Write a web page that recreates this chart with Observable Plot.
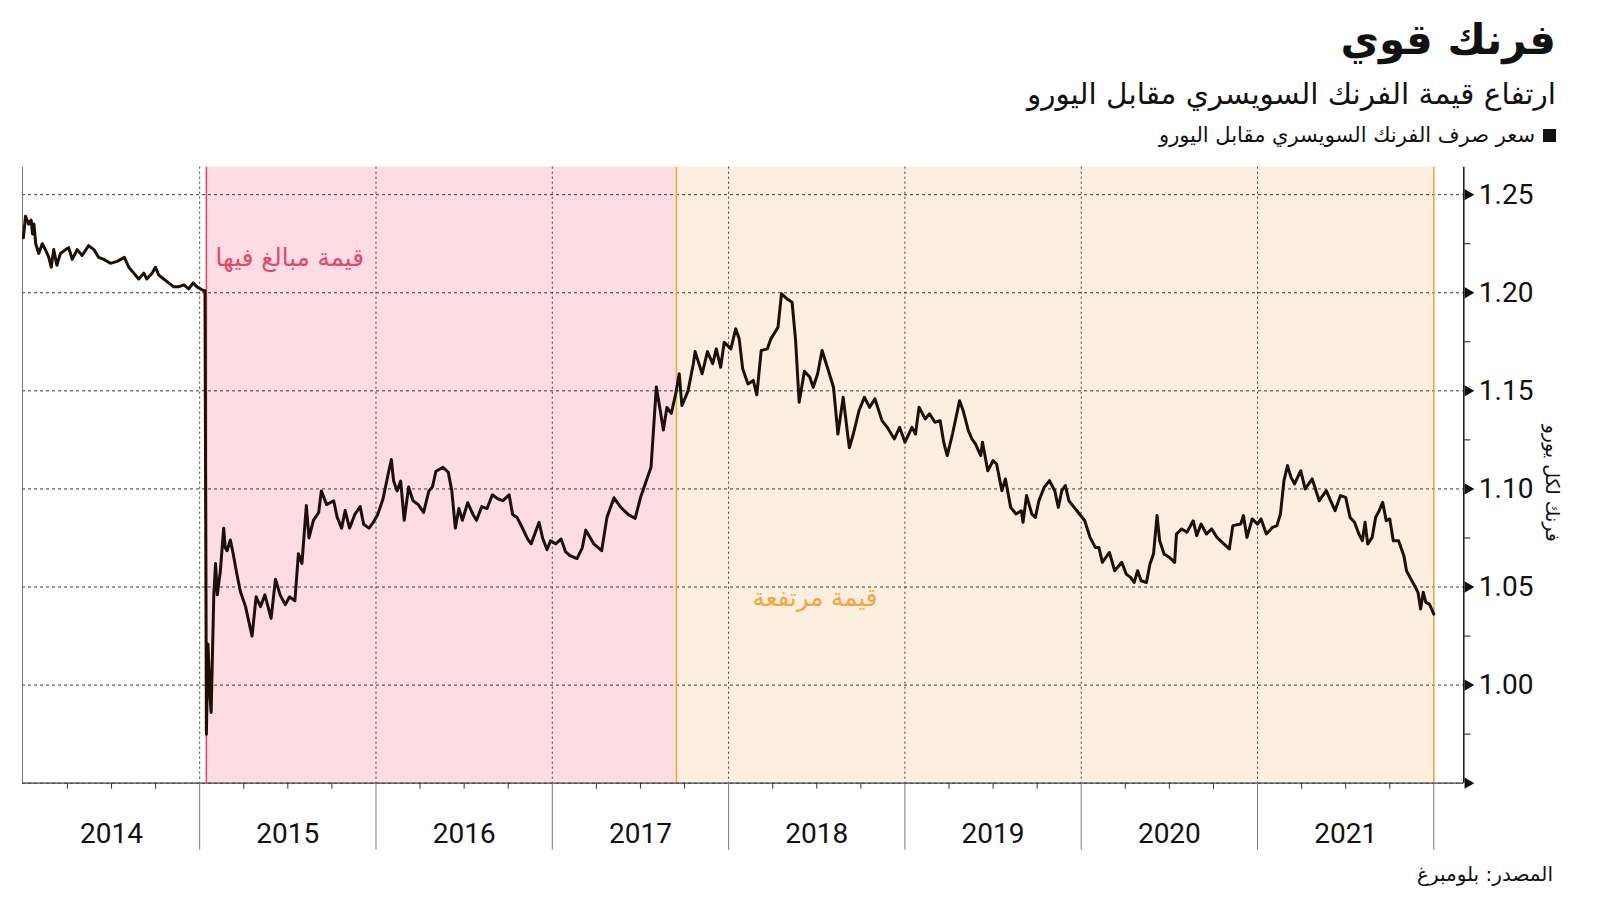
<!DOCTYPE html>
<html lang="ar">
<head>
<meta charset="utf-8">
<script src="https://cdn.jsdelivr.net/npm/d3@7"></script>
<script src="https://cdn.jsdelivr.net/npm/@observablehq/plot@0.6"></script>
<style>
  html, body { margin: 0; padding: 0; background: #ffffff; }
  #wrap { position: relative; width: 1600px; height: 901px; overflow: hidden; background: #fff; }
  .t { position: absolute; right: 44px; direction: rtl; white-space: nowrap; color: #111; font-family: "DejaVu Sans", sans-serif; line-height: 1; }
  #title { top: 19px; font-size: 42px; font-weight: bold; }
  #subtitle { top: 80px; font-size: 29.5px; }
  #legend { top: 125px; font-size: 21px; display: flex; align-items: center; gap: 8px; }
  #legend .sw { width: 13px; height: 13px; background: #111; display: inline-block; }
  #source { top: 864px; right: 47px; font-size: 20px; }
  #chart { position: absolute; left: 0; top: 150px; }
</style>
</head>
<body>
<div id="wrap">
  <div class="t" id="title">فرنك قوي</div>
  <div class="t" id="subtitle">ارتفاع قيمة الفرنك السويسري مقابل اليورو</div>
  <div class="t" id="legend"><span class="sw"></span><span>سعر صرف الفرنك السويسري مقابل اليورو</span></div>
  <div class="t" id="source">المصدر: بلومبرغ</div>
  <div id="chart"></div>
</div>
<script>
// ---- Data: EUR/CHF (francs per euro), x as decimal year ----
const yearPos = [
2014.000,2014.012,2014.030,2014.044,2014.052,2014.060,2014.070,2014.087,2014.107,2014.125,
2014.144,2014.158,2014.172,2014.190,2014.210,2014.240,2014.257,2014.277,2014.305,2014.333,
2014.370,2014.400,2014.427,2014.456,2014.494,2014.532,2014.573,2014.598,2014.626,2014.654,
2014.683,2014.700,2014.730,2014.749,2014.768,2014.796,2014.824,2014.853,2014.880,2014.910,
2014.938,2014.963,2014.985,2015.013,2015.030,2015.038,2015.047,2015.058,2015.065,2015.080,
2015.090,2015.100,2015.117,2015.136,2015.145,2015.155,2015.174,2015.190,2015.210,2015.230,
2015.260,2015.297,2015.320,2015.345,2015.370,2015.405,2015.430,2015.456,2015.485,2015.510,
2015.540,2015.560,2015.580,2015.605,2015.620,2015.645,2015.675,2015.690,2015.720,2015.760,
2015.780,2015.805,2015.825,2015.850,2015.880,2015.910,2015.930,2015.960,2015.985,2016.010,
2016.040,2016.070,2016.087,2016.100,2016.120,2016.140,2016.160,2016.185,2016.210,2016.240,
2016.270,2016.300,2016.320,2016.340,2016.380,2016.410,2016.430,2016.450,2016.470,2016.490,
2016.520,2016.550,2016.570,2016.600,2016.630,2016.660,2016.690,2016.720,2016.755,2016.775,
2016.800,2016.820,2016.860,2016.880,2016.925,2016.945,2016.970,2016.990,2017.020,2017.050,
2017.075,2017.100,2017.140,2017.170,2017.190,2017.235,2017.280,2017.310,2017.350,2017.390,
2017.430,2017.470,2017.500,2017.540,2017.560,2017.590,2017.615,2017.630,2017.650,2017.675,
2017.700,2017.720,2017.735,2017.770,2017.800,2017.810,2017.850,2017.880,2017.910,2017.930,
2017.955,2017.975,2018.013,2018.040,2018.060,2018.080,2018.110,2018.140,2018.160,2018.185,
2018.220,2018.240,2018.280,2018.300,2018.330,2018.360,2018.380,2018.400,2018.430,2018.460,
2018.480,2018.505,2018.530,2018.560,2018.595,2018.620,2018.650,2018.675,2018.685,2018.710,
2018.740,2018.770,2018.800,2018.830,2018.870,2018.900,2018.940,2018.970,2019.000,2019.040,
2019.060,2019.080,2019.115,2019.140,2019.170,2019.200,2019.220,2019.240,2019.270,2019.310,
2019.330,2019.360,2019.380,2019.400,2019.430,2019.440,2019.470,2019.500,2019.520,2019.550,
2019.570,2019.600,2019.630,2019.660,2019.670,2019.690,2019.720,2019.740,2019.760,2019.790,
2019.820,2019.850,2019.870,2019.890,2019.910,2019.930,2019.960,2019.990,2020.020,2020.050,
2020.080,2020.100,2020.120,2020.160,2020.190,2020.230,2020.255,2020.280,2020.300,2020.320,
2020.340,2020.370,2020.390,2020.410,2020.430,2020.445,2020.470,2020.500,2020.530,2020.540,
2020.570,2020.600,2020.635,2020.655,2020.680,2020.710,2020.740,2020.770,2020.810,2020.840,
2020.860,2020.905,2020.920,2020.940,2020.970,2021.000,2021.020,2021.050,2021.085,2021.110,
2021.130,2021.150,2021.170,2021.190,2021.210,2021.245,2021.270,2021.310,2021.350,2021.390,
2021.410,2021.440,2021.470,2021.500,2021.525,2021.550,2021.575,2021.595,2021.610,2021.625,
2021.650,2021.670,2021.690,2021.710,2021.730,2021.750,2021.770,2021.800,2021.830,2021.845,
2021.865,2021.895,2021.910,2021.925,2021.940,2021.955,2021.975,2022.000
];
const rate = [
1.228,1.239,1.235,1.237,1.230,1.235,1.225,1.220,1.225,1.222,
1.218,1.213,1.222,1.214,1.220,1.222,1.223,1.217,1.222,1.219,
1.224,1.222,1.218,1.217,1.215,1.216,1.218,1.213,1.210,1.207,
1.210,1.207,1.210,1.213,1.209,1.207,1.205,1.203,1.203,1.204,
1.202,1.205,1.203,1.2015,1.201,0.975,1.021,0.995,0.986,1.046,
1.062,1.046,1.058,1.080,1.070,1.0685,1.074,1.067,1.057,1.048,
1.040,1.025,1.045,1.040,1.046,1.034,1.054,1.046,1.041,1.045,
1.043,1.067,1.062,1.0915,1.075,1.084,1.088,1.099,1.092,1.094,
1.0855,1.080,1.089,1.080,1.087,1.091,1.082,1.080,1.083,1.087,
1.095,1.108,1.115,1.104,1.099,1.104,1.084,1.101,1.094,1.092,
1.088,1.099,1.101,1.109,1.111,1.1085,1.099,1.080,1.090,1.084,
1.093,1.087,1.084,1.091,1.090,1.097,1.095,1.094,1.097,1.087,
1.0855,1.082,1.0745,1.072,1.083,1.075,1.069,1.0735,1.072,1.0745,
1.068,1.066,1.0645,1.070,1.079,1.072,1.0685,1.0855,1.0955,1.0905,
1.087,1.085,1.0955,1.106,1.111,1.152,1.1385,1.130,1.1415,1.1385,
1.1485,1.1587,1.1425,1.150,1.1638,1.170,1.1587,1.170,1.1638,1.1714,
1.162,1.1748,1.1714,1.1816,1.1765,1.1612,1.1535,1.1553,1.148,1.1706,
1.1714,1.1765,1.1824,1.1995,1.197,1.1952,1.1757,1.1442,1.160,1.157,
1.1518,1.1587,1.1706,1.162,1.1518,1.128,1.1467,1.128,1.121,1.1289,
1.140,1.1467,1.1416,1.1459,1.1348,1.1314,1.1255,1.1314,1.1238,1.1314,
1.128,1.1416,1.1357,1.1383,1.134,1.1348,1.1238,1.117,1.128,1.145,
1.140,1.1297,1.1255,1.123,1.117,1.1238,1.1093,1.1144,1.1127,1.0991,
1.1051,1.0906,1.0872,1.0889,1.083,1.0966,1.0872,1.0855,1.094,1.1008,
1.1042,1.0991,1.0906,1.0991,1.1017,1.094,1.0906,1.0872,1.0838,1.0753,
1.0702,1.0702,1.0626,1.0676,1.0583,1.0626,1.0566,1.0549,1.0523,1.0583,
1.0532,1.0523,1.0617,1.0668,1.0864,1.0736,1.0668,1.0651,1.0626,1.077,
1.0796,1.0779,1.0838,1.0762,1.0821,1.077,1.0796,1.0753,1.0719,1.0694,
1.0813,1.0821,1.0864,1.0753,1.0847,1.0821,1.0847,1.077,1.0804,1.0813,
1.0872,1.1042,1.1119,1.1059,1.1026,1.1093,1.100,1.1051,1.094,1.0991,
1.0949,1.0889,1.0966,1.0957,1.0855,1.083,1.077,1.0736,1.083,1.0719,
1.0753,1.0855,1.0889,1.0932,1.0838,1.0847,1.0736,1.0736,1.066,1.0583,
1.0549,1.050,1.0473,1.0388,1.0473,1.0422,1.0413,1.0362
];

// Periods (decimal years)
const periodNames  = ["قيمة مبالغ فيها", "قيمة مرتفعة"];
const periodStart  = [2015.038, 2017.704];
const periodEnd    = [2017.704, 2022.000];
const periodFill   = ["#fddde3", "#fdefdf"];
const periodLine   = ["#e2486b", "#f1a640"];
const periodLabelX = [2015.511, 2018.49];
const periodLabelY = [1.2175, 1.0445];

// Axes
const yGrid      = [0.95, 1.00, 1.05, 1.10, 1.15, 1.20, 1.25];
const yLabels    = [1.00, 1.05, 1.10, 1.15, 1.20, 1.25];
const yMinor     = [0.975, 1.025, 1.075, 1.125, 1.175, 1.225];
const yearLines  = [2015, 2016, 2017, 2018, 2019, 2020, 2021];
const yearBounds = [2015, 2016, 2017, 2018, 2019, 2020, 2021, 2022];
const yearLabels = [2014, 2015, 2016, 2017, 2018, 2019, 2020, 2021];
const yAxisTitle = "فرنك لكل يورو";

const xDomain = [2013.995, 2022.17];
const yDomain = [0.95, 1.264];

const series = yearPos.map((x, i) => ({x, v: rate[i]}));
const quarters = [];
for (let y = 2014; y < 2022; y++) for (const q of [0.25, 0.5, 0.75]) quarters.push(y + q);
const yearMids = yearLabels.map(y => y + 0.5);

const numFont = "Roboto, 'Liberation Sans', sans-serif";
const arFont = "'DejaVu Sans', sans-serif";

const marks = [];
periodStart.forEach((s, i) => {
  marks.push(Plot.rect([0], {x1: () => s, x2: () => periodEnd[i], fill: periodFill[i]}));
});
marks.push(
  Plot.gridY(yGrid, {stroke: "#3a3a3a", strokeOpacity: 1, strokeDasharray: "3,3", strokeWidth: 1}),
  Plot.gridX(yearLines, {stroke: "#3a3a3a", strokeOpacity: 1, strokeDasharray: "2,3", strokeWidth: 1}),
  Plot.ruleX([xDomain[0]], {stroke: "#777", strokeWidth: 1}),
  Plot.ruleX(periodStart, {stroke: (d, i) => periodLine[i], strokeWidth: 1.6}),
  Plot.ruleX([periodEnd[1]], {stroke: periodLine[1], strokeWidth: 1.6}),
  Plot.ruleY([yDomain[0]], {stroke: "#444", strokeWidth: 1.2}),
  Plot.line(series, {x: "x", y: "v", stroke: "#1c100a", strokeWidth: 3, strokeLinejoin: "round"}),
  // right axis
  Plot.ruleX([xDomain[1]], {stroke: "#111", strokeWidth: 1.5}),
  Plot.axisY({anchor: "right", ticks: yMinor, tickSize: 6, tickFormat: () => "", stroke: "#111", label: null}),
  Plot.dot(yGrid, {y: d => d, frameAnchor: "right", symbol: "triangle", r: 4.2, rotate: 90, dx: 4, fill: "#111", stroke: null}),
  Plot.axisY({anchor: "right", ticks: yLabels, tickSize: 0, tickPadding: 15, tickFormat: d3.format(".2f"), fontSize: 28, fontFamily: numFont, fill: "#111", label: null}),
  Plot.text([yAxisTitle], {frameAnchor: "right", textAnchor: "middle", dx: 88, dy: 8, rotate: 90, fontSize: 19, fontFamily: arFont, fill: "#111"}),
  // bottom axis
  Plot.axisX({ticks: quarters, tickSize: 6, tickFormat: () => "", stroke: "#333", label: null}),
  Plot.axisX({ticks: yearBounds, tickSize: 67, tickFormat: () => "", stroke: "#777", label: null}),
  Plot.axisX({ticks: yearMids, tickSize: 0, tickPadding: 40, tickFormat: d => String(Math.floor(d)), fontSize: 28, fontFamily: numFont, fill: "#111", label: null}),
  // period labels
  Plot.text(periodNames, {x: (d, i) => periodLabelX[i], y: (d, i) => periodLabelY[i], fill: (d, i) => periodLine[i], fontSize: 24.5, fontFamily: arFont})
);

const chart = Plot.plot({
  width: 1600,
  height: 720,
  marginTop: 16.7,
  marginBottom: 87.3,
  marginLeft: 22,
  marginRight: 136.7,
  x: {domain: xDomain, axis: null},
  y: {domain: yDomain, axis: null},
  color: {type: "identity"},
  style: {background: "transparent", overflow: "visible", fontFamily: numFont},
  marks
});
document.getElementById("chart").appendChild(chart);
</script>
</body>
</html>
